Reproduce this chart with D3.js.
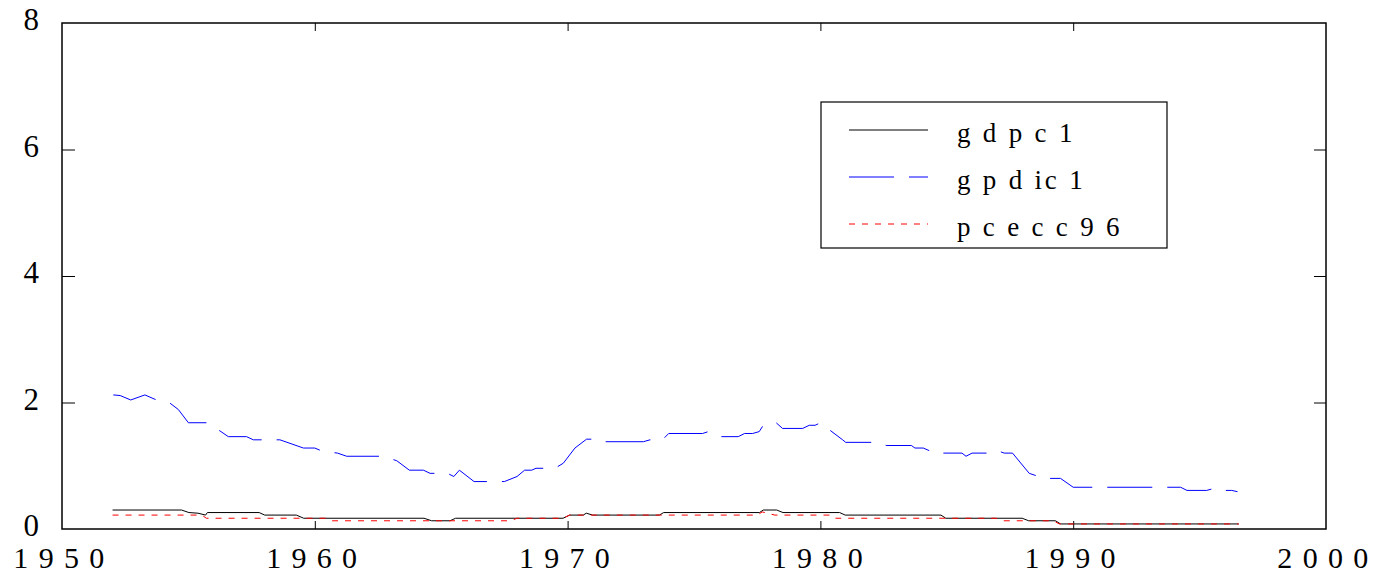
<!DOCTYPE html>
<html>
<head>
<meta charset="utf-8">
<script src="https://cdn.jsdelivr.net/npm/d3@7"></script>
<style>
  body { margin: 0; background: #fff; }
  svg { display: block; }
  text { font-family: "Liberation Serif", "Times New Roman", serif; fill: #000; }
</style>
</head>
<body>
<div id="chart"></div>
<script>
// x tick labels / y tick labels
const xTicks = [1950, 1960, 1970, 1980, 1990, 2000];
const yTicks = [0, 2, 4, 6, 8];

// gdpc1 (black, solid)
const gdpYears = [1952.0, 1954.73, 1955.02, 1955.38, 1955.68, 1955.75, 1957.8, 1958.02, 1959.27, 1959.56,
  1964.32, 1964.62, 1965.35, 1965.57, 1969.82, 1970.08, 1970.62, 1970.74, 1970.99, 1973.63, 1973.8,
  1977.59, 1977.74, 1978.27, 1978.52, 1980.76, 1980.98, 1984.77, 1984.96, 1987.98, 1988.24, 1989.3,
  1989.5, 1996.55];
const gdpValues = [0.30, 0.30, 0.26, 0.25, 0.22, 0.26, 0.26, 0.22, 0.22, 0.17,
  0.17, 0.13, 0.13, 0.17, 0.17, 0.22, 0.22, 0.25, 0.22, 0.22, 0.26,
  0.26, 0.30, 0.30, 0.26, 0.26, 0.22, 0.22, 0.17, 0.17, 0.13, 0.13,
  0.08, 0.08];

// gpdic1 (blue, long dash)
const gpdiYears = [1952.03, 1952.3, 1952.72, 1953.28, 1953.68, 1954.27, 1954.6, 1955.0, 1955.72, 1956.25,
  1956.58, 1957.3, 1957.57, 1958.62, 1959.55, 1960.0, 1960.3, 1960.9, 1961.26, 1962.68,
  1963.24, 1963.74, 1964.3, 1964.56, 1965.25, 1965.5, 1965.72, 1966.3, 1967.5, 1968.0,
  1968.3, 1968.58, 1968.75, 1969.5, 1969.83, 1970.29, 1970.75, 1971.0, 1971.19, 1973.0,
  1973.26, 1973.75, 1974.0, 1975.34, 1975.57, 1975.9, 1976.0, 1976.75, 1977.0, 1977.32,
  1977.58, 1977.74, 1978.0, 1978.25, 1978.5, 1979.3, 1979.56, 1979.79, 1980.01, 1980.35,
  1980.88, 1981.0, 1982.3, 1982.6, 1983.6, 1983.74, 1984.07, 1984.3, 1984.6, 1984.73,
  1985.6, 1985.76, 1986.0, 1986.7, 1987.0, 1987.27, 1987.6, 1988.26, 1988.56, 1988.75,
  1989.5, 1990.0, 1994.25, 1994.5, 1995.28, 1995.65, 1996.0, 1996.27, 1996.5];
const gpdiValues = [2.12, 2.11, 2.04, 2.12, 2.05, 1.99, 1.89, 1.68, 1.68, 1.55,
  1.46, 1.46, 1.41, 1.41, 1.28, 1.28, 1.23, 1.20, 1.15, 1.15,
  1.08, 0.93, 0.93, 0.88, 0.88, 0.83, 0.93, 0.75, 0.75, 0.83,
  0.93, 0.93, 0.96, 0.96, 1.04, 1.28, 1.42, 1.42, 1.38, 1.38,
  1.41, 1.41, 1.51, 1.51, 1.54, 1.48, 1.46, 1.46, 1.51, 1.51,
  1.54, 1.64, 1.68, 1.68, 1.59, 1.59, 1.64, 1.64, 1.68, 1.57,
  1.41, 1.37, 1.37, 1.32, 1.32, 1.28, 1.28, 1.24, 1.24, 1.20,
  1.20, 1.15, 1.20, 1.20, 1.24, 1.20, 1.20, 0.88, 0.84, 0.80,
  0.80, 0.66, 0.66, 0.61, 0.61, 0.65, 0.61, 0.61, 0.59];

// pcecc96 (red, short dash)
const pceYears = [1952.0, 1955.53, 1955.71, 1960.47, 1960.69, 1967.77, 1967.99, 1969.82, 1970.08,
  1977.5, 1977.7, 1978.2, 1980.46, 1980.6, 1986.95, 1987.2, 1989.22, 1989.45, 1996.55];
const pceValues = [0.22, 0.22, 0.17, 0.17, 0.13, 0.13, 0.17, 0.17, 0.22,
  0.22, 0.27, 0.22, 0.22, 0.17, 0.17, 0.13, 0.13, 0.08, 0.08];

const seriesNames = ["gdpc1", "gpdic1", "pcecc96"];

const width = 1376, height = 575;
const margin = {top: 23, right: 50, bottom: 46, left: 62};

const svg = d3.select("#chart").append("svg")
  .attr("width", width)
  .attr("height", height);

const x = d3.scaleLinear().domain([1950, 2000]).range([margin.left, width - margin.right]);
const y = d3.scaleLinear().domain([0, 8]).range([height - margin.bottom, margin.top]);

const spaced = d => String(d).split("").join(" ");

// frame
svg.append("rect")
  .attr("x", x(1950)).attr("y", y(8))
  .attr("width", x(2000) - x(1950)).attr("height", y(0) - y(8))
  .attr("fill", "none").attr("stroke", "#000").attr("stroke-width", 1.5);

// axes, ticks pointing inward
const gx = svg.append("g").attr("transform", `translate(0,${y(0)})`)
  .call(d3.axisBottom(x).tickValues(xTicks).tickSize(-8).tickFormat(spaced));
const gxTop = svg.append("g").attr("transform", `translate(0,${y(8)})`)
  .call(d3.axisTop(x).tickValues(xTicks).tickSize(-8).tickFormat(""));
const gy = svg.append("g").attr("transform", `translate(${x(1950)},0)`)
  .call(d3.axisLeft(y).tickValues(yTicks).tickSize(-13).tickFormat(d3.format("d")));
const gyRight = svg.append("g").attr("transform", `translate(${x(2000)},0)`)
  .call(d3.axisRight(y).tickValues(yTicks).tickSize(-12).tickFormat(""));

[gx, gxTop, gy, gyRight].forEach(g => {
  g.select(".domain").remove();
  g.selectAll(".tick line").attr("stroke", "#000").attr("stroke-width", 1);
});
gx.selectAll(".tick").filter(d => d === 1950 || d === 2000).select("line").remove();
gxTop.selectAll(".tick").filter(d => d === 1950 || d === 2000).select("line").remove();
gy.selectAll(".tick").filter(d => d === 0 || d === 8).select("line").remove();
gyRight.selectAll(".tick").filter(d => d === 0 || d === 8).select("line").remove();

gx.selectAll(".tick text")
  .attr("y", 39).attr("dy", 0)
  .attr("dx", -3)
  .style("font-family", '"Liberation Serif", serif')
  .style("font-size", "30px")
  .style("letter-spacing", "1.4px")
  .attr("fill", "#000");
gy.selectAll(".tick text")
  .attr("x", -23).attr("dy", 6.5)
  .style("font-family", '"Liberation Serif", serif')
  .style("font-size", "31px")
  .attr("fill", "#000");

// lines
const mkData = (years, values) => years.map((yr, i) => ({year: yr, value: values[i]}));
const line = d3.line().x(d => x(d.year)).y(d => y(d.value));

const series = [
  {name: seriesNames[0], data: mkData(gdpYears, gdpValues), color: "#000000", dash: null},
  {name: seriesNames[1], data: mkData(gpdiYears, gpdiValues), color: "#0000ff", dash: "45,15"},
  {name: seriesNames[2], data: mkData(pceYears, pceValues), color: "#ff0000", dash: "6,7"}
];

svg.append("g").selectAll("path")
  .data(series)
  .join("path")
  .attr("d", d => line(d.data))
  .attr("fill", "none")
  .attr("stroke", d => d.color)
  .attr("stroke-width", 1)
  .attr("stroke-dasharray", d => d.dash);

// legend
const legend = svg.append("g").attr("transform", "translate(821,102)");
legend.append("rect")
  .attr("width", 346).attr("height", 146)
  .attr("fill", "#fff").attr("stroke", "#000").attr("stroke-width", 1.2);

const rows = legend.selectAll("g.row")
  .data(series)
  .join("g")
  .attr("class", "row")
  .attr("transform", (d, i) => `translate(0,${28 + i * 47})`);

rows.append("line")
  .attr("x1", 28).attr("x2", 107)
  .attr("stroke", d => d.color)
  .attr("stroke-width", 1)
  .attr("stroke-dasharray", d => d.dash);

rows.append("text")
  .attr("x", 136).attr("y", 12)
  .style("font-size", "27px")
  .style("letter-spacing", "2.8px")
  .text(d => d.name === "gpdic1" ? "g p d ic 1" : spaced(d.name));
</script>
</body>
</html>
